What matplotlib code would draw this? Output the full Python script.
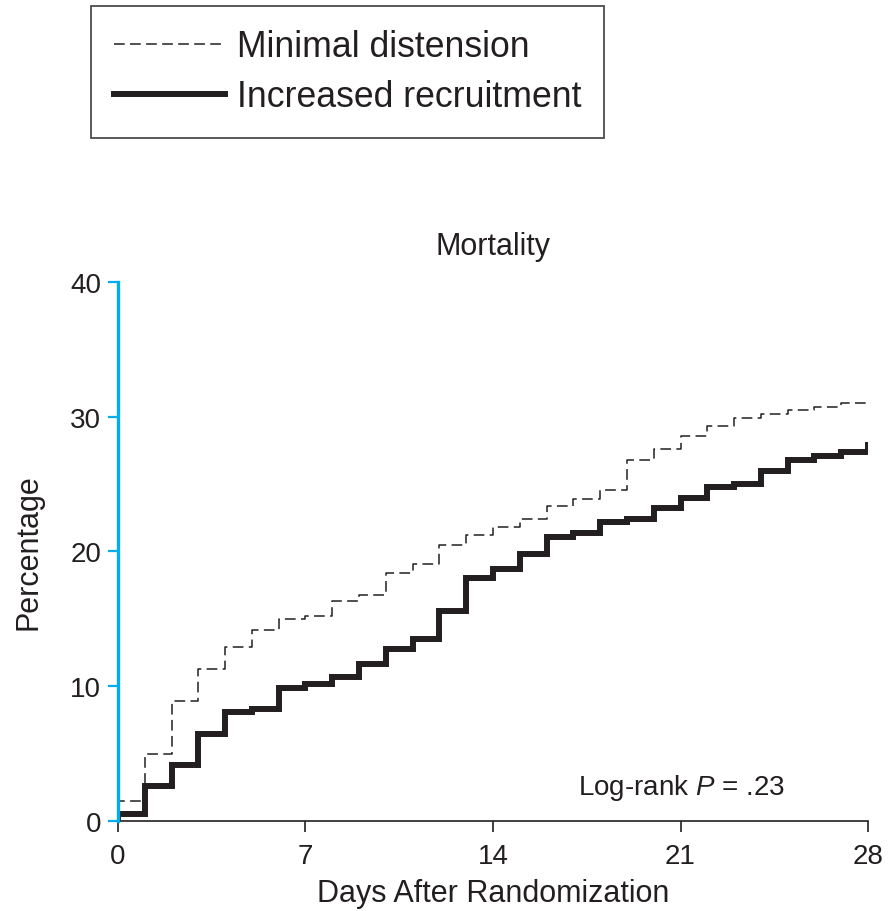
import matplotlib
matplotlib.use("Agg")
import matplotlib.pyplot as plt

plt.rcParams['font.family'] = ['Liberation Sans', 'DejaVu Sans']
plt.rcParams['mathtext.fontset'] = 'custom'
plt.rcParams['mathtext.rm'] = 'Liberation Sans'
plt.rcParams['mathtext.it'] = 'Liberation Sans:italic'

# Data (cumulative mortality, %)
days = list(range(0, 29))
minimal_distension = [1.5, 5.0, 8.9, 11.3, 12.9, 14.2, 15.0, 15.2, 16.3, 16.8,
                      18.4, 19.1, 20.5, 21.2, 21.8, 22.4, 23.4, 23.9, 24.6, 26.8,
                      27.6, 28.6, 29.3, 29.9, 30.2, 30.5, 30.7, 31.0, 31.2]
increased_recruitment = [0.5, 2.6, 4.15, 6.45, 8.1, 8.3, 9.9, 10.15, 10.7, 11.65,
                         12.8, 13.5, 15.6, 18.0, 18.7, 19.8, 21.1, 21.4, 22.2, 22.4,
                         23.2, 24.0, 24.8, 25.0, 26.0, 26.8, 27.1, 27.4, 27.9]
x_ticks = [0, 7, 14, 21, 28]
y_ticks = [0, 10, 20, 30, 40]

text_color = '#231f20'
blue = '#00aeef'

fig = plt.figure(figsize=(8.89, 9.12), dpi=100)
ax = fig.add_axes([0.1327, 0.0987, 0.8437, 0.591])

ax.plot([0] + days, [0] + minimal_distension, drawstyle='steps-post',
        color=text_color, linewidth=1.1, linestyle=(0, (7, 3.5)),
        label='Minimal distension')
ax.plot([0] + days, [0] + increased_recruitment, drawstyle='steps-post',
        color=text_color, linewidth=4.3, solid_joinstyle='miter',
        label='Increased recruitment')

ax.set_xlim(0, 28)
ax.set_ylim(0, 40)
ax.set_xticks(x_ticks)
ax.set_yticks(y_ticks)

for side in ['top', 'right']:
    ax.spines[side].set_visible(False)
ax.spines['left'].set_color(blue)
ax.spines['left'].set_linewidth(2.4)
ax.spines['bottom'].set_color(text_color)
ax.spines['bottom'].set_linewidth(1.2)
ax.spines['left'].set_zorder(5)

ax.tick_params(axis='x', direction='out', length=8, width=1.2, color=text_color,
               pad=8, labelsize=20, labelcolor=text_color)
ax.tick_params(axis='y', direction='out', length=7, width=1.6, color=blue,
               pad=5, labelsize=20, labelcolor=text_color)

ax.set_xlabel('Days After Randomization', fontsize=22, color=text_color, labelpad=6)
ax.set_ylabel('Percentage', fontsize=22, color=text_color, labelpad=19)
ax.set_title('Mortality', fontsize=22, color=text_color, pad=20)

ax.text(0.751, 0.063, 'Log-rank $P$ = .23', transform=ax.transAxes,
        ha='center', va='center', fontsize=20, color=text_color)

leg = fig.legend(loc='upper left', bbox_to_anchor=(0.102, 0.992),
                 fontsize=25.7, frameon=True, fancybox=False, handlelength=3.1,
                 handletextpad=0.34, borderpad=0.65, labelspacing=0.42,
                 borderaxespad=0)
leg.get_frame().set_edgecolor(text_color)
leg.get_frame().set_linewidth(1.3)
for t in leg.get_texts():
    t.set_color(text_color)

fig.savefig('out.png', dpi=100)
